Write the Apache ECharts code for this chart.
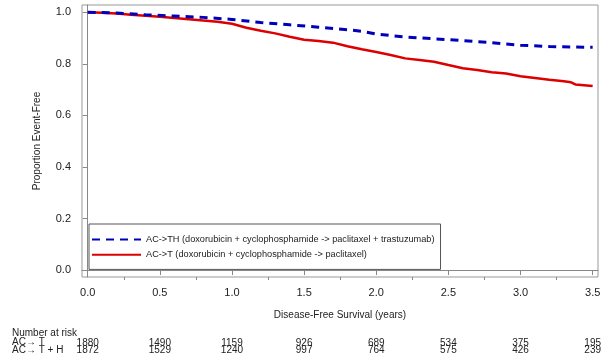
<!DOCTYPE html>
<html><head><meta charset="utf-8">
<script src="https://cdn.jsdelivr.net/npm/echarts@6/dist/echarts.min.js"></script>
<style>html,body{margin:0;padding:0;background:#fff}#c{width:608px;height:357px}</style>
</head><body><div id="c"></div>
<script>
// Kaplan-Meier estimates (years, proportion event-free)
const timesTH = [0, 0.2, 0.4, 0.6, 0.8, 1.0, 1.2, 1.4, 1.6, 1.8, 1.9, 2.0, 2.2, 2.4, 2.6, 2.8, 3.0, 3.2, 3.5];
const survTH  = [1.0, 0.997, 0.99, 0.985, 0.98, 0.972, 0.96, 0.951, 0.942, 0.932, 0.926, 0.915, 0.904, 0.897, 0.89, 0.882, 0.872, 0.867, 0.864];
const timesT  = [0, 0.1, 0.2, 0.3, 0.4, 0.5, 0.6, 0.7, 0.8, 0.9, 1.0, 1.1, 1.2, 1.3, 1.4, 1.5, 1.6, 1.7, 1.8, 1.9, 2.0, 2.1, 2.2, 2.3, 2.4, 2.5, 2.6, 2.7, 2.8, 2.9, 3.0, 3.1, 3.2, 3.3, 3.35, 3.38, 3.5];
const survT   = [1.0, 0.998, 0.995, 0.99, 0.986, 0.982, 0.978, 0.973, 0.968, 0.963, 0.955, 0.94, 0.928, 0.918, 0.905, 0.893, 0.888, 0.882, 0.868, 0.856, 0.846, 0.834, 0.821, 0.815, 0.808, 0.795, 0.783, 0.776, 0.767, 0.762, 0.752, 0.745, 0.738, 0.732, 0.728, 0.72, 0.714];
// Axis ticks
const xMajorTicks = [0, 0.5, 1.0, 1.5, 2.0, 2.5, 3.0, 3.5];
const xMinorTicks = [0.25, 0.75, 1.25, 1.75, 2.25, 2.75, 3.25];
const yTicks = [0, 0.2, 0.4, 0.6, 0.8, 1.0];
// Number at risk table
const riskTimes = [0, 0.5, 1.0, 1.5, 2.0, 2.5, 3.0, 3.5];
const riskT  = [1880, 1490, 1159, 926, 689, 534, 375, 195];
const riskTH = [1872, 1529, 1240, 997, 764, 575, 426, 239];
const nameTH = 'AC->TH (doxorubicin + cyclophosphamide -> paclitaxel + trastuzumab)';
const nameT  = 'AC->T (doxorubicin + cyclophosphamide -> paclitaxel)';
const riskRowLabels = ['AC\u2192 T', 'AC\u2192 T + H'];

const font = 'Liberation Sans, Arial, sans-serif';
const X_MIN = -0.0395, X_MAX = 3.537, Y_MIN = -0.027, Y_MAX = 1.028;
const zip = (a, b) => a.map((v, i) => [v, b[i]]);
function riskFormatter(arr) {
  return function (v) {
    const i = riskTimes.findIndex(t => Math.abs(t - v) < 1e-6);
    return i >= 0 ? String(arr[i]) : '';
  };
}
const riskAxis = (arr, offset) => ({
  type: 'value', min: X_MIN, max: X_MAX, position: 'bottom', offset: offset,
  axisLine: {show: false}, axisTick: {show: false}, splitLine: {show: false},
  axisLabel: {show: true, margin: 0, fontSize: 10, fontFamily: font, color: '#222',
    customValues: riskTimes, formatter: riskFormatter(arr)}
});

const chart = echarts.init(document.getElementById('c'), null, {renderer: 'canvas'});
chart.setOption({
  animation: false,
  backgroundColor: '#fff',
  textStyle: {fontFamily: font},
  grid: {left: 82, right: 10, top: 5, bottom: 80, containLabel: false,
         show: true, borderColor: '#999', borderWidth: 1},
  xAxis: [{
    type: 'value', min: X_MIN, max: X_MAX,
    name: 'Disease-Free Survival (years)', nameLocation: 'middle', nameGap: 33,
    nameTextStyle: {fontSize: 10, color: '#222', fontFamily: font},
    axisLine: {show: true, lineStyle: {color: '#888'}},
    axisTick: {show: true, length: 5, customValues: xMajorTicks, lineStyle: {color: '#888'}},
    splitLine: {show: false},
    axisLabel: {margin: 10, fontSize: 11, color: '#222', fontFamily: font,
      customValues: xMajorTicks, formatter: v => v.toFixed(1)}
  }, {
    type: 'value', min: X_MIN, max: X_MAX, position: 'bottom',
    axisLine: {show: false}, splitLine: {show: false},
    axisTick: {show: true, length: 3, customValues: xMinorTicks, lineStyle: {color: '#888'}},
    axisLabel: {show: false}
  }, riskAxis(riskT, 61), riskAxis(riskTH, 68)],
  yAxis: {
    type: 'value', min: Y_MIN, max: Y_MAX,
    name: 'Proportion Event-Free', nameLocation: 'middle', nameGap: 40,
    nameTextStyle: {fontSize: 10, color: '#222', fontFamily: font},
    axisLine: {show: true, lineStyle: {color: '#888'}},
    axisTick: {show: true, length: 5, customValues: yTicks, lineStyle: {color: '#888'}},
    splitLine: {show: false},
    axisLabel: {margin: 11, fontSize: 11, color: '#222', fontFamily: font,
      customValues: yTicks, formatter: v => v.toFixed(1)}
  },
  legend: {
    orient: 'vertical', left: 89, top: 224,
    data: [nameTH, nameT],
    borderColor: '#555', borderWidth: 1, padding: [10, 6, 9, 2],
    itemWidth: 49, itemHeight: 14, itemGap: 4,
    itemStyle: {opacity: 0, color: 'rgba(0,0,0,0)', borderColor: 'rgba(0,0,0,0)', borderWidth: 0},
    textStyle: {fontSize: 9.2, color: '#222', fontFamily: font}
  },
  graphic: [
    {type: 'text', left: 12, top: 328, style: {text: 'Number at risk', fontSize: 10, fill: '#222', fontFamily: font}},
    {type: 'text', left: 12, top: 337, style: {text: riskRowLabels[0], fontSize: 10, fill: '#222', fontFamily: font}},
    {type: 'text', left: 12, top: 345, style: {text: riskRowLabels[1], fontSize: 10, fill: '#222', fontFamily: font}}
  ],
  series: [
    {name: nameT, type: 'line', data: zip(timesT, survT), showSymbol: false, symbol: 'none',
     lineStyle: {color: '#dd0000', width: 2.5}, itemStyle: {color: '#dd0000'}},
    {name: nameTH, type: 'line', data: zip(timesTH, survTH), showSymbol: false, symbol: 'none',
     lineStyle: {color: '#0000bb', width: 3, type: [8, 6]}, itemStyle: {color: '#0000bb'}}
  ]
});
</script></body></html>
